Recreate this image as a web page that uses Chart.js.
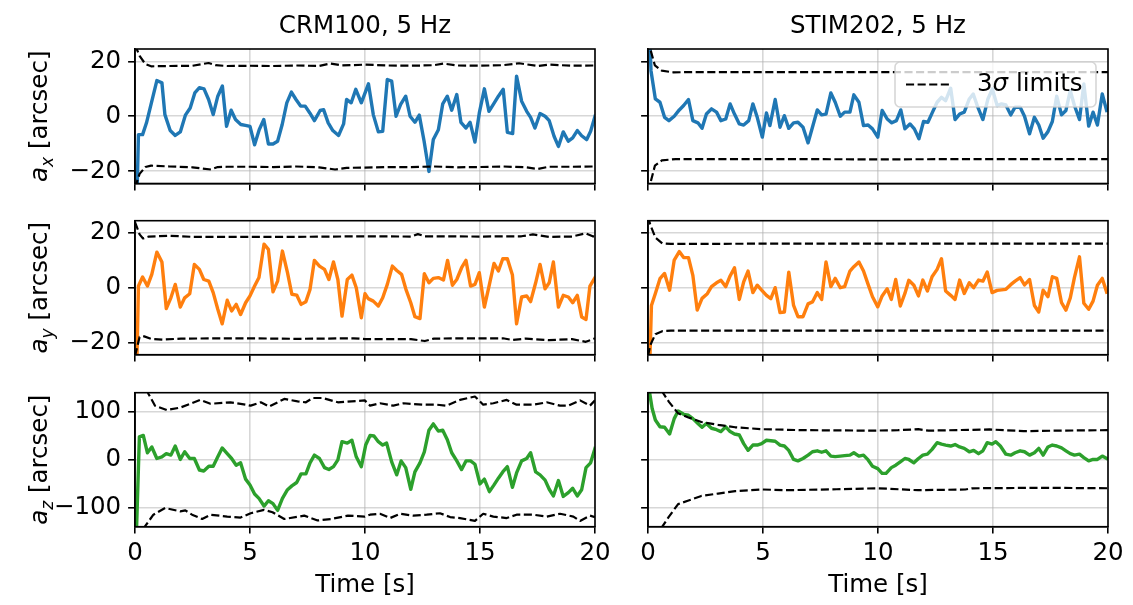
<!DOCTYPE html>
<html>
<head>
<meta charset="utf-8">
<script src="https://cdn.jsdelivr.net/npm/chart.js@4.4.0/dist/chart.umd.min.js"></script>
<style>
  html, body { margin: 0; padding: 0; background: #fff; }
  #wrap { position: relative; width: 1133px; height: 605px; }
  #wrap canvas { position: absolute; left: 0; top: 0; }
</style>
</head>
<body>
<div id="wrap"></div>
<script>
// ---- data ----
var xTicks = [0, 5, 10, 15, 20];
var yTicksSmall = [-20, 0, 20];
var yTicksBig = [-100, 0, 100];
var yRangeSmall = [-24.5, 24.5];
var yRangeBig = [-140, 139];

// CRM100 a_x
var crmAxT = [0, 0.15, 0.33, 0.5, 0.95, 1.17, 1.3, 1.53, 1.75, 1.97, 2.19, 2.4, 2.6, 2.8, 3.0, 3.2, 3.4, 3.6, 3.8, 3.98, 4.18, 4.37, 4.6, 4.8, 5.0, 5.2, 5.4, 5.6, 5.8, 6.0, 6.2, 6.4, 6.6, 6.8, 7.0, 7.2, 7.4, 7.6, 7.8, 8.05, 8.2, 8.4, 8.6, 8.85, 9.07, 9.2, 9.4, 9.6, 9.84, 10.15, 10.36, 10.58, 10.77, 10.97, 11.16, 11.35, 11.55, 11.77, 11.96, 12.17, 12.36, 12.57, 12.78, 12.97, 13.19, 13.38, 13.58, 13.77, 13.99, 14.17, 14.39, 14.57, 14.78, 14.97, 15.19, 15.39, 15.58, 15.8, 16.01, 16.19, 16.42, 16.59, 16.81, 17.03, 17.2, 17.39, 17.61, 17.83, 18.01, 18.22, 18.41, 18.62, 18.84, 19.03, 19.23, 19.42, 19.64, 19.81, 20];
var crmAxV = [-60, -6.7, -6.7, -2.4, 13, 12.2, 0.6, -5.2, -7, -5.7, 0.4, 3, 8.5, 10.4, 10, 6.1, 0.6, 7.3, 11, -3.7, 2.2, -1.2, -3, -3.3, -3.7, -10.4, -4.9, -1.2, -10.1, -10.1, -9.1, -3, 4.9, 8.8, 6.1, 3.7, 3.7, 1.2, -1.6, 2.1, 2.4, -2.4, -5.2, -7, -2.8, 6.1, 4.9, 9.8, 4.9, 11.8, 0.6, -5.7, -5.5, 13.4, 12.8, 0, 4.3, 7.3, 0, -2.2, 0.4, -9.1, -20.1, -8.5, -4.9, 4.5, 7.3, 2.2, 7.9, -2.2, -4.3, -2.2, -9.4, 1.2, 10, 1.8, 4.3, 7.3, 9.8, -5.9, -6.3, 14.6, 5.5, 1.8, -0.4, -4.3, 1, 0, -1.6, -7.3, -11, -5.7, -9.1, -7.9, -5.2, -7.1, -8.5, -5.5, 0];
var crmAxUpT = [0, 0.2, 0.45, 0.7, 1.5, 2.5, 3.2, 3.5, 4, 5, 6, 7, 8, 8.5, 9, 10, 11, 12, 13, 13.4, 14, 15, 16, 16.7, 17.5, 18, 19, 20];
var crmAxUp = [26, 22, 19, 18.2, 18.3, 18.4, 19.4, 18.6, 18.3, 18.4, 18.3, 18.5, 18.3, 19.2, 18.5, 18.8, 18.5, 18.4, 18.6, 19.2, 18.5, 18.4, 18.6, 19.3, 18.3, 18.8, 18.4, 18.5];
var crmAxLoT = [0, 0.2, 0.45, 0.7, 1.5, 2.5, 3.3, 3.6, 4, 5, 6, 7, 8, 8.7, 9.2, 10, 11, 12, 13, 14, 15, 16, 17, 17.5, 18, 19, 20];
var crmAxLo = [-26, -21, -18.5, -18, -18.3, -18.6, -19.4, -18.5, -18.4, -18.4, -18.5, -18.3, -18.6, -19.4, -18.8, -18.7, -18.5, -18.5, -18.3, -18.6, -18.5, -18.3, -18.6, -19.2, -18.4, -18.4, -18.3];

// CRM100 a_y
var crmAyT = [0, 0.15, 0.33, 0.54, 0.73, 0.95, 1.17, 1.36, 1.56, 1.75, 1.97, 2.16, 2.38, 2.58, 2.8, 2.99, 3.21, 3.4, 3.6, 3.79, 4.01, 4.2, 4.4, 4.59, 4.81, 5.0, 5.2, 5.39, 5.61, 5.8, 6.0, 6.2, 6.41, 6.63, 6.82, 7.03, 7.22, 7.43, 7.61, 7.8, 8.02, 8.24, 8.43, 8.63, 8.82, 9.0, 9.23, 9.43, 9.62, 9.84, 10.0, 10.14, 10.36, 10.58, 10.77, 10.97, 11.19, 11.38, 11.59, 11.78, 11.99, 12.17, 12.39, 12.58, 12.78, 12.97, 13.19, 13.41, 13.59, 13.8, 13.99, 14.2, 14.39, 14.59, 14.78, 14.97, 15.19, 15.41, 15.61, 15.8, 15.99, 16.19, 16.41, 16.59, 16.81, 17.03, 17.2, 17.42, 17.61, 17.83, 18.01, 18.19, 18.41, 18.62, 18.84, 19.03, 19.23, 19.42, 19.61, 19.78, 20];
var crmAyV = [-60, 0.6, 3.9, 0.6, 4.9, 13, 9.4, -7.6, -3.7, 1.2, -7.1, -3.7, -2.2, 8.5, 6.7, 3, 2.4, -1.8, -7.9, -13.2, -4.6, -8.5, -6.1, -9.8, -5.5, -3, 0.6, 3.7, 15.9, 14, -1.5, 2.4, 13.4, 5.5, -2.4, -2.7, -6.1, -5.1, -0.6, 10, 7.9, 6.7, 3, 9.4, 3, -10.4, 3, 4.6, 0, -11, -2.2, -4, -4.9, -6.7, -3.7, 1.2, 7.9, 6.3, 4.9, -0.6, -5.5, -10.6, -11.3, 5.1, 1.8, 3.4, 3.7, 2.8, 10, 0.9, 3, 7.3, 10, 0.6, 1.2, 5.5, -7.1, 1.2, 8.9, 6.1, 10.6, 10.6, 4.6, -13.2, -3.4, -3, -5.1, 1.8, 8.5, -0.4, 1.8, 9.4, -7.1, -2.8, -3.4, -5.5, -2.8, -10.7, -11.6, 0.6, 3.7];
var crmAyUpT = [0, 0.2, 0.35, 0.6, 1.5, 2.5, 5, 7, 10, 12, 12.3, 12.6, 15, 16, 16.8, 17.3, 18, 19, 19.6, 19.9, 20];
var crmAyUp = [24, 19.5, 18, 18.7, 19, 18.6, 18.6, 18.6, 18.8, 18.7, 19.6, 18.8, 18.7, 18.8, 18.8, 19.5, 18.6, 18.7, 19.9, 18.8, 18.7];
var crmAyLoT = [0, 0.2, 0.4, 0.7, 1.2, 2, 5, 7, 9.5, 10, 12, 12.6, 13, 15, 16, 16.4, 17, 18, 19, 19.6, 20];
var crmAyLo = [-25, -18, -17.8, -18.7, -19, -18.6, -18.5, -18.7, -18.5, -18.8, -18.8, -19.5, -18.6, -18.5, -18.5, -19.1, -18.6, -19.2, -18.8, -19.8, -18.5];

// CRM100 a_z
var crmAzT = [0, 0.19, 0.36, 0.54, 0.73, 0.95, 1.17, 1.36, 1.56, 1.75, 1.97, 2.16, 2.38, 2.58, 2.8, 2.99, 3.21, 3.4, 3.6, 3.79, 4.01, 4.2, 4.4, 4.59, 4.81, 5.0, 5.2, 5.39, 5.61, 5.8, 6.0, 6.2, 6.41, 6.63, 6.82, 7.03, 7.22, 7.43, 7.61, 7.8, 8.02, 8.24, 8.43, 8.63, 8.82, 9.0, 9.23, 9.43, 9.62, 9.84, 10.03, 10.22, 10.39, 10.58, 10.77, 10.94, 11.16, 11.38, 11.57, 11.77, 11.99, 12.17, 12.39, 12.58, 12.78, 12.97, 13.19, 13.38, 13.58, 13.77, 13.99, 14.2, 14.39, 14.59, 14.78, 15.0, 15.19, 15.41, 15.61, 15.8, 15.99, 16.19, 16.41, 16.59, 16.81, 17.03, 17.2, 17.42, 17.61, 17.83, 18.01, 18.19, 18.41, 18.62, 18.84, 19.03, 19.23, 19.42, 19.61, 19.81, 20];
var crmAzV = [-250, 47, 50, 14, 26, 2, 5.5, 12, 9, 28, 0, 16, 2, 2, -22, -24, -14, -14, 5.5, 24, 12, 2, -12, -7, -41, -53, -72, -81, -97, -86, -92, -106, -81, -63, -55, -48, -30, -30, -7, 9, 2, -17, -21, -15, -1, 37, 34, 40, 5.5, -15, 30, 50, 49, 37, 30, 34, -5, -32, -3, -17, -62, -26, -7, 16, 61, 74, 59, 61, 41, 14, -3, -21, -3, -3, -10, -51, -41, -67, -53, -39, -26, -15, -58, -28, -3, 2, 14, -26, -32, -43, -62, -76, -44, -77, -69, -60, -76, -63, -17, -7, 23];
var crmAzUpT = [0.35, 0.58, 0.87, 1.38, 1.97, 2.41, 2.84, 3.28, 4.15, 4.81, 5.03, 5.47, 5.83, 6.2, 6.49, 7.07, 7.43, 7.73, 8.16, 8.82, 9.99, 10.22, 10.65, 11.23, 11.67, 12.54, 13.12, 13.55, 14.13, 14.78, 15.14, 15.58, 16.16, 16.59, 17.32, 17.9, 18.48, 18.84, 19.35, 19.78, 20];
var crmAzUp = [170, 137, 112, 103, 108, 116, 124, 116, 119, 114, 112, 119, 110, 119, 126, 121, 119, 128, 128, 119, 123, 112, 117, 112, 117, 114, 114, 112, 124, 131, 114, 117, 124, 114, 114, 119, 112, 112, 123, 112, 123];
var crmAzLoT = [0.3, 0.44, 0.8, 1.31, 1.97, 2.19, 2.48, 2.92, 3.28, 4.01, 4.59, 5.03, 5.61, 5.98, 6.49, 7.36, 7.94, 8.53, 9.26, 9.99, 10.22, 10.65, 11.09, 11.52, 12.1, 12.68, 13.26, 13.7, 14.13, 14.78, 15.14, 15.58, 16.16, 16.59, 17.32, 17.9, 18.48, 19.06, 19.35, 19.78, 20];
var crmAzLo = [-170, -139, -115, -101, -108, -106, -115, -124, -115, -119, -121, -112, -105, -110, -124, -117, -127, -124, -117, -119, -115, -113, -122, -113, -117, -115, -112, -120, -122, -128, -113, -119, -122, -115, -115, -119, -113, -119, -128, -117, -120];

// STIM202 a_x
var stimAxT = [0, 0.13, 0.32, 0.52, 0.72, 0.91, 1.14, 1.36, 1.55, 1.76, 1.95, 2.17, 2.35, 2.54, 2.76, 2.98, 3.17, 3.38, 3.57, 3.76, 3.97, 4.16, 4.38, 4.56, 4.75, 4.97, 5.15, 5.3, 5.53, 5.74, 5.93, 6.12, 6.33, 6.52, 6.74, 6.96, 7.15, 7.36, 7.55, 7.74, 7.95, 8.14, 8.36, 8.55, 8.78, 8.95, 9.17, 9.37, 9.57, 9.76, 9.99, 10.18, 10.4, 10.6, 10.8, 10.99, 11.17, 11.39, 11.58, 11.78, 11.98, 12.17, 12.37, 12.57, 12.76, 12.94, 13.16, 13.35, 13.55, 13.75, 13.97, 14.14, 14.34, 14.56, 14.78, 14.97, 15.18, 15.37, 15.56, 15.77, 15.96, 16.18, 16.37, 16.59, 16.8, 16.99, 17.18, 17.39, 17.58, 17.77, 17.98, 18.17, 18.36, 18.54, 18.76, 18.95, 19.16, 19.35, 19.54, 19.75, 19.94];
var stimAxV = [45, 16.6, 6.3, 5.1, -0.4, -1.6, 0, 2.3, 3.9, 6.1, -1.6, -2.4, -4.4, 0.8, 2.7, 1.5, -1.6, -1, 4.5, 0.8, -2.8, -3.2, -1.6, 4.5, -0.4, -7.6, 1.2, -3.4, 6.1, -4, 0.2, -4.4, -2.4, -2.2, -4, -9.7, -4, 2.3, 0.5, 0.8, 8.5, 5.1, 0, 1.5, 1.5, 7.8, 5.1, -3.4, -3.2, -4.6, -7.6, 2.1, -1, -2.4, -1.6, 2.3, -4.6, -2.8, -4.6, -8.2, -1.9, -2.2, 1.5, 5.1, 6.9, 5.7, 10.2, -1.2, 0.8, 1.5, 6.3, 8.1, 3.3, -1.2, 6.3, 9.9, 3.9, 4.5, 4.1, 0.5, 3.3, 3.3, 0, -6.4, -0.4, -3.2, -8, -5.6, -1.9, 7.3, 0.5, 2.1, 9.3, 3.9, -1.2, 11.8, -3.6, 1.5, -3.2, 8.1, 2.1];
var stimAxUpT = [0, 0.1, 0.3, 0.6, 1.1, 2, 5, 10, 15, 20];
var stimAxUp = [28, 24.5, 18.5, 16.6, 16, 16.1, 16.1, 16.1, 16.1, 16.1];
var stimAxLoT = [0, 0.1, 0.3, 0.6, 1.2, 5, 10, 15, 20];
var stimAxLo = [-32, -24.5, -18, -16.1, -15.6, -15.6, -15.7, -15.6, -15.6];

// STIM202 a_y
var stimAyT = [0, 0.15, 0.32, 0.52, 0.72, 0.94, 1.14, 1.36, 1.55, 1.76, 1.95, 2.14, 2.35, 2.58, 2.76, 2.98, 3.17, 3.38, 3.57, 3.76, 3.97, 4.16, 4.35, 4.56, 4.75, 4.94, 5.15, 5.34, 5.53, 5.74, 5.93, 6.12, 6.33, 6.52, 6.74, 6.96, 7.15, 7.36, 7.55, 7.74, 7.95, 8.14, 8.36, 8.55, 8.78, 8.95, 9.17, 9.37, 9.57, 9.76, 9.99, 10.18, 10.4, 10.58, 10.77, 10.97, 11.17, 11.34, 11.56, 11.76, 11.95, 12.15, 12.35, 12.57, 12.76, 12.94, 13.16, 13.35, 13.55, 13.75, 13.97, 14.16, 14.37, 14.56, 14.75, 14.96, 15.18, 15.56, 15.77, 15.96, 16.18, 16.37, 16.59, 16.8, 16.99, 17.18, 17.39, 17.58, 17.77, 17.98, 18.17, 18.36, 18.54, 18.76, 18.95, 19.16, 19.35, 19.54, 19.75, 19.94];
var stimAyV = [-50, -6.5, -2.1, 3.3, 5.2, -0.9, 10.1, 13.2, 11, 11, 4.5, -8.2, -3.9, -2.2, 0.4, 1.8, 2.7, 0.4, 4.3, 7.3, -4.3, 2.1, 6.1, -1.8, 0.9, -0.9, -2.8, -4, 0, -9.1, -8.9, 5.7, -6.5, -10.6, -10.6, -5.9, -5.2, -1.8, -4.3, 9.4, 0.4, 3.4, 0, 0.4, 6.1, 7.7, 9.4, 6.1, 1.2, -3.3, -7, -3, -0.4, -4.3, 3, -6.7, -2.1, 2.7, 0.9, -3, 2.8, -1.2, 4, 6.7, 10.6, -1.2, -2.8, -4.3, 2.8, -2.1, 1.8, 0, 2.8, 2.4, 5.7, -1.8, -1, -0.6, 1.1, 2.4, 3.7, 1, 3, -6.5, -8.9, -0.9, -3.3, 4, 3.4, -5.5, -8.2, -3.7, 3.7, 11.3, -5.7, -7.9, -4.9, 0.9, 3.4, -1.6];
var stimAyUpT = [0, 0.1, 0.32, 0.62, 1, 5, 10, 15, 20];
var stimAyUp = [26, 23, 18.3, 16.2, 16, 16.1, 16.1, 16.1, 16.1];
var stimAyLoT = [0, 0.1, 0.32, 0.62, 1, 5, 10, 20];
var stimAyLo = [-25, -21, -17, -15.9, -15.7, -15.7, -15.7, -15.7];

// STIM202 a_z
var stimAzT = [0, 0.18, 0.32, 0.52, 0.72, 0.94, 1.14, 1.31, 1.55, 1.76, 1.95, 2.17, 2.35, 2.54, 2.76, 2.98, 3.17, 3.38, 3.57, 3.76, 3.97, 4.16, 4.35, 4.56, 4.75, 4.94, 5.15, 5.34, 5.53, 5.74, 5.93, 6.12, 6.33, 6.52, 6.74, 6.96, 7.15, 7.36, 7.55, 7.74, 7.95, 8.14, 8.36, 8.55, 8.78, 8.95, 9.17, 9.37, 9.57, 9.76, 9.99, 10.18, 10.35, 10.58, 10.77, 10.97, 11.17, 11.34, 11.56, 11.76, 11.95, 12.15, 12.35, 12.57, 12.76, 12.94, 13.16, 13.35, 13.55, 13.75, 13.97, 14.16, 14.37, 14.56, 14.75, 14.96, 15.12, 15.32, 15.56, 15.77, 15.96, 16.18, 16.37, 16.59, 16.8, 16.99, 17.18, 17.39, 17.58, 17.77, 17.98, 18.17, 18.36, 18.54, 18.76, 18.95, 19.16, 19.35, 19.54, 19.75, 19.94];
var stimAzV = [160, 106, 82, 68, 67, 53, 85, 101, 94, 92, 85, 75, 67, 75, 65, 62, 58, 68, 58, 53, 51, 33, 19, 30, 30, 33, 40, 39, 38, 30, 28, 19, 0, -3, 2, 9, 16, 18, 15, 18, 7, 6, 7, 8, 9, 14, 7, 9, -1, -14, -19, -29, -29, -17, -12, -5, 2, 0, -7, 2, 9, 11, 21, 35, 32, 30, 28, 31, 26, 23, 16, 19, 12, 18, 35, 32, 37, 28, 11, 9, 14, 18, 16, 9, 14, 23, 9, 26, 30, 28, 24, 18, 12, 9, 11, 4, -3, 0, 0, 7, 2];
var stimAzUpT = [0.3, 0.62, 0.91, 1.31, 1.73, 2.32, 3.05, 3.79, 4.97, 6.74, 9.69, 10.87, 11.75, 12.2, 14.85, 16.33, 17.8, 20];
var stimAzUp = [190, 141, 120, 96, 88, 78, 72, 67, 63, 61, 60, 61, 63, 60, 62.5, 59, 60, 61];
var stimAzLoT = [0.3, 0.62, 0.91, 1.31, 1.73, 2.32, 3.05, 3.79, 4.97, 6, 8.2, 9.98, 11.75, 13.8, 14.1, 17.06, 20];
var stimAzLo = [-190, -140, -119, -93, -86, -76, -71, -66, -62.5, -64, -62, -60, -64, -62.5, -60, -59, -60];

// ---- layout ----
var W = 1133, H = 605;
var YW = 80, XH = 50;
var colX = [[135, 595], [648, 1108]];
var rowY = [[49, 183.5], [220.7, 354.7], [392.7, 526.7]];
var FS = 24.5;
var FONT = '"DejaVu Sans", sans-serif';
var LW = 3.4, DLW = 2.2;
var DASH = [8.1, 3.5];

var panels = [
  {col: 0, row: 0, title: 'CRM100, 5 Hz', sub: 'x', t: crmAxT, v: crmAxV, upT: crmAxUpT, up: crmAxUp, loT: crmAxLoT, lo: crmAxLo, color: '#1f77b4'},
  {col: 1, row: 0, title: 'STIM202, 5 Hz', sub: 'x', t: stimAxT, v: stimAxV, upT: stimAxUpT, up: stimAxUp, loT: stimAxLoT, lo: stimAxLo, color: '#1f77b4', legend: true},
  {col: 0, row: 1, sub: 'y', t: crmAyT, v: crmAyV, upT: crmAyUpT, up: crmAyUp, loT: crmAyLoT, lo: crmAyLo, color: '#ff7f0e'},
  {col: 1, row: 1, sub: 'y', t: stimAyT, v: stimAyV, upT: stimAyUpT, up: stimAyUp, loT: stimAyLoT, lo: stimAyLo, color: '#ff7f0e'},
  {col: 0, row: 2, sub: 'z', t: crmAzT, v: crmAzV, upT: crmAzUpT, up: crmAzUp, loT: crmAzLoT, lo: crmAzLo, color: '#2ca02c'},
  {col: 1, row: 2, sub: 'z', t: stimAzT, v: stimAzV, upT: stimAzUpT, up: stimAzUp, loT: stimAzLoT, lo: stimAzLo, color: '#2ca02c'}
];

function pts(t, v) {
  return t.map(function(x, i) { return {x: x, y: v[i]}; });
}

function fmt(v) {
  return String(v).replace('-', '\u2212');
}

function drawYLabel(ctx, cx, cy, sub) {
  var fIt = 'italic ' + FS + 'px ' + FONT;
  var fSub = 'italic ' + (FS * 0.7) + 'px ' + FONT;
  var fReg = FS + 'px ' + FONT;
  ctx.save();
  ctx.translate(cx, cy);
  ctx.rotate(-Math.PI / 2);
  ctx.fillStyle = '#000';
  ctx.textBaseline = 'alphabetic';
  ctx.textAlign = 'left';
  ctx.font = fIt; var wa = ctx.measureText('a').width;
  ctx.font = fSub; var ws = ctx.measureText(sub).width;
  ctx.font = fReg; var wr = ctx.measureText(' [arcsec]').width;
  var x = -(wa + ws + wr) / 2, base = FS * 0.3;
  ctx.font = fIt; ctx.fillText('a', x, base); x += wa;
  ctx.font = fSub; ctx.fillText(sub, x, base + FS * 0.22); x += ws;
  ctx.font = fReg; ctx.fillText(' [arcsec]', x, base);
  ctx.restore();
}

function drawLegend(ctx, a) {
  var w = 201, h = 45, r = 5;
  var x = a.right - 12 - w, y = a.top + 13;
  ctx.save();
  ctx.beginPath();
  ctx.moveTo(x + r, y);
  ctx.arcTo(x + w, y, x + w, y + h, r);
  ctx.arcTo(x + w, y + h, x, y + h, r);
  ctx.arcTo(x, y + h, x, y, r);
  ctx.arcTo(x, y, x + w, y, r);
  ctx.closePath();
  ctx.fillStyle = 'rgba(255,255,255,0.8)';
  ctx.fill();
  ctx.strokeStyle = 'rgba(204,204,204,0.8)';
  ctx.lineWidth = 1.6;
  ctx.stroke();
  var my = y + h / 2;
  ctx.beginPath();
  ctx.setLineDash(DASH);
  ctx.strokeStyle = '#000';
  ctx.lineWidth = DLW;
  ctx.moveTo(x + 11, my);
  ctx.lineTo(x + 56, my);
  ctx.stroke();
  ctx.setLineDash([]);
  ctx.fillStyle = '#000';
  ctx.textBaseline = 'middle';
  ctx.textAlign = 'left';
  var tx = x + 82;
  ctx.font = FS + 'px ' + FONT;
  ctx.fillText('3', tx, my); tx += ctx.measureText('3').width;
  ctx.font = 'italic ' + FS + 'px ' + FONT;
  ctx.fillText('\u03c3', tx, my); tx += ctx.measureText('\u03c3').width;
  ctx.font = FS + 'px ' + FONT;
  ctx.fillText(' limits', tx, my);
  ctx.restore();
}

var decor = {
  id: 'decor',
  afterDraw: function(chart) {
    var p = chart.options.plugins.decor.panel;
    var a = chart.chartArea, ctx = chart.ctx;
    ctx.save();
    ctx.strokeStyle = '#000';
    ctx.lineWidth = 1.6;
    ctx.strokeRect(a.left, a.top, a.right - a.left, a.bottom - a.top);
    ctx.fillStyle = '#000';
    if (p.title) {
      ctx.font = FS + 'px ' + FONT;
      ctx.textAlign = 'center';
      ctx.textBaseline = 'alphabetic';
      ctx.fillText(p.title, (a.left + a.right) / 2, 33);
    }
    if (p.row === 2) {
      ctx.font = FS + 'px ' + FONT;
      ctx.textAlign = 'center';
      ctx.textBaseline = 'middle';
      ctx.fillText('Time [s]', (a.left + a.right) / 2, 586);
    }
    ctx.restore();
    if (p.col === 0) drawYLabel(ctx, 40, (a.top + a.bottom) / 2, p.sub);
    if (p.legend) drawLegend(ctx, a);
  }
};

var wrap = document.getElementById('wrap');
var gridCol = 'rgba(176,176,176,0.5)';

panels.forEach(function(p) {
  var cv = document.createElement('canvas');
  cv.width = W; cv.height = H;
  wrap.appendChild(cv);
  var L = colX[p.col][0], R = colX[p.col][1], T = rowY[p.row][0], B = rowY[p.row][1];
  var yr = p.row < 2 ? yRangeSmall : yRangeBig;
  var yt = p.row < 2 ? yTicksSmall : yTicksBig;
  var dashed = {borderColor: '#000', borderWidth: DLW, borderDash: DASH, pointRadius: 0, fill: false, tension: 0, borderJoinStyle: 'round'};
  new Chart(cv, {
    type: 'line',
    data: {
      datasets: [
        Object.assign({data: pts(p.upT, p.up)}, dashed),
        Object.assign({data: pts(p.loT, p.lo)}, dashed),
        {data: pts(p.t, p.v), borderColor: p.color, borderWidth: LW, pointRadius: 0, fill: false, tension: 0, borderJoinStyle: 'round', borderCapStyle: 'square'}
      ]
    },
    options: {
      responsive: false,
      animation: false,
      devicePixelRatio: 1,
      events: [],
      layout: {padding: {left: L - YW, right: W - R, top: T, bottom: H - B - XH}},
      plugins: {legend: {display: false}, tooltip: {enabled: false}, decor: {panel: p}},
      scales: {
        x: {
          type: 'linear', min: 0, max: 20,
          afterFit: function(s) { s.height = XH; },
          afterBuildTicks: function(s) { s.ticks = xTicks.map(function(v) { return {value: v}; }); },
          ticks: {display: p.row === 2, color: '#000', padding: 5, maxRotation: 0, autoSkip: false,
                  font: {family: FONT, size: FS}, callback: function(v) { return fmt(v); }},
          grid: {color: gridCol, lineWidth: 1.6, tickColor: '#000', tickLength: 6.9, tickWidth: 1.6},
          border: {color: '#000', width: 1.6}
        },
        y: {
          type: 'linear', min: yr[0], max: yr[1],
          afterFit: function(s) { s.width = YW; },
          afterBuildTicks: function(s) { s.ticks = yt.map(function(v) { return {value: v}; }); },
          ticks: {display: p.col === 0, color: '#000', padding: 6.9, autoSkip: false,
                  font: {family: FONT, size: FS}, callback: function(v) { return fmt(v); }},
          grid: {color: gridCol, lineWidth: 1.6, tickColor: '#000', tickLength: 6.9, tickWidth: 1.6},
          border: {color: '#000', width: 1.6}
        }
      }
    },
    plugins: [decor]
  });
});
</script>
</body>
</html>
